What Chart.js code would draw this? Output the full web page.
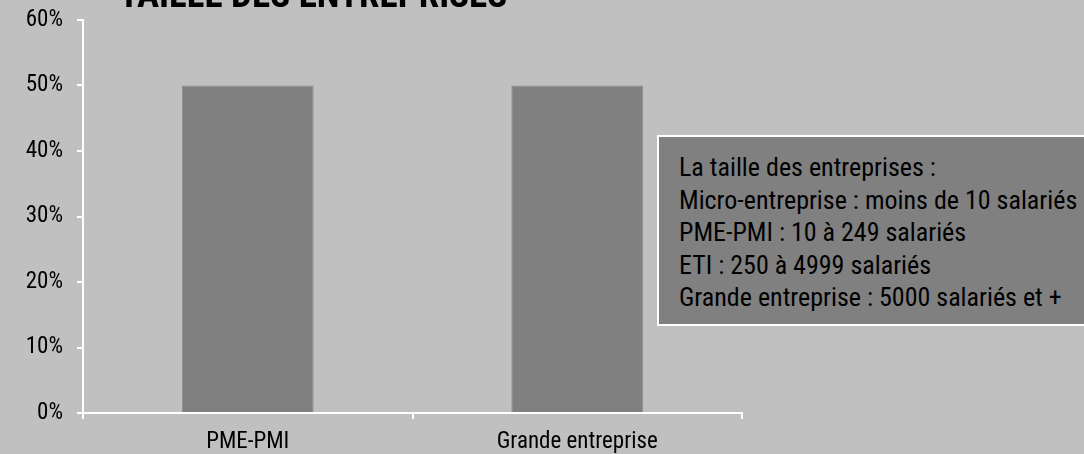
<!DOCTYPE html>
<html>
<head>
<meta charset="utf-8">
<script src="https://cdn.jsdelivr.net/npm/chart.js@4"></script>
<style>
  html, body { margin: 0; padding: 0; background: #c0c0c0; overflow: hidden; }
  #wrap { position: relative; width: 1084px; height: 454px; }
  #title {
    position: absolute; left: 119px; top: -27px; line-height: 37px;
    font: bold 37px 'Roboto Condensed', 'Liberation Sans', sans-serif;
    color: #000; white-space: nowrap;
  }
  #note {
    position: absolute; left: 657px; top: 135px; width: 460px; height: 191px;
    background: #808080; border: 2px solid #fff; box-sizing: border-box;
    padding: 14px 0 0 20px;
    font: 26px/32.5px 'Roboto Condensed', 'Liberation Sans', sans-serif;
    color: #000; white-space: nowrap;
  }
</style>
</head>
<body>
<div id="wrap">
  <canvas id="taille" width="1084" height="454"></canvas>
  <div id="title">TAILLE DES ENTREPRISES</div>
  <div id="note"></div>
</div>
<script>
// values
var categories = ['PME-PMI', 'Grande entreprise'];
var shares = [50, 50];
var yTicks = [0, 10, 20, 30, 40, 50, 60];
var noteLines = [
  'La taille des entreprises :',
  'Micro-entreprise : moins de 10 salariés',
  'PME-PMI : 10 à 249 salariés',
  'ETI : 250 à 4999 salariés',
  'Grande entreprise : 5000 salariés et +'
];

document.getElementById('note').innerHTML = noteLines.join('<br>');

Chart.defaults.font.family = "'Roboto Condensed', 'Liberation Sans', sans-serif";
Chart.defaults.color = '#000';

var ctx = document.getElementById('taille');
var myChart = new Chart(ctx, {
  type: 'bar',
  data: {
    labels: categories,
    datasets: [{
      label: 'Taille des entreprises',
      data: shares,
      backgroundColor: '#808080',
      borderColor: '#8c8c8c',
      borderWidth: 1,
      barPercentage: 0.4,
      categoryPercentage: 1
    }]
  },
  options: {
    responsive: false,
    animation: false,
    layout: { padding: { top: 20, right: 342, left: 0, bottom: 0 } },
    plugins: { legend: { display: false }, tooltip: { enabled: false } },
    scales: {
      x: {
        grid: { display: true, drawOnChartArea: false, color: '#fff', lineWidth: 2, tickLength: 6 },
        border: { color: '#fff', width: 2 },
        ticks: { font: { size: 23 }, padding: 9, color: '#000' },
        afterFit: function (s) { s.height = 41; s.paddingLeft = 0; s.paddingRight = 0; }
      },
      y: {
        min: 0, max: 60,
        afterBuildTicks: function (s) { s.ticks = yTicks.map(function (v) { return { value: v }; }); },
        grid: { display: true, drawOnChartArea: false, color: '#fff', lineWidth: 2, tickLength: 6 },
        border: { color: '#fff', width: 2 },
        ticks: { font: { size: 23 }, padding: 14, color: '#000', callback: function (v) { return v + '%'; } },
        afterFit: function (s) { s.width = 83; s.paddingTop = 0; s.paddingBottom = 0; }
      }
    }
  }
});
</script>
</body>
</html>
